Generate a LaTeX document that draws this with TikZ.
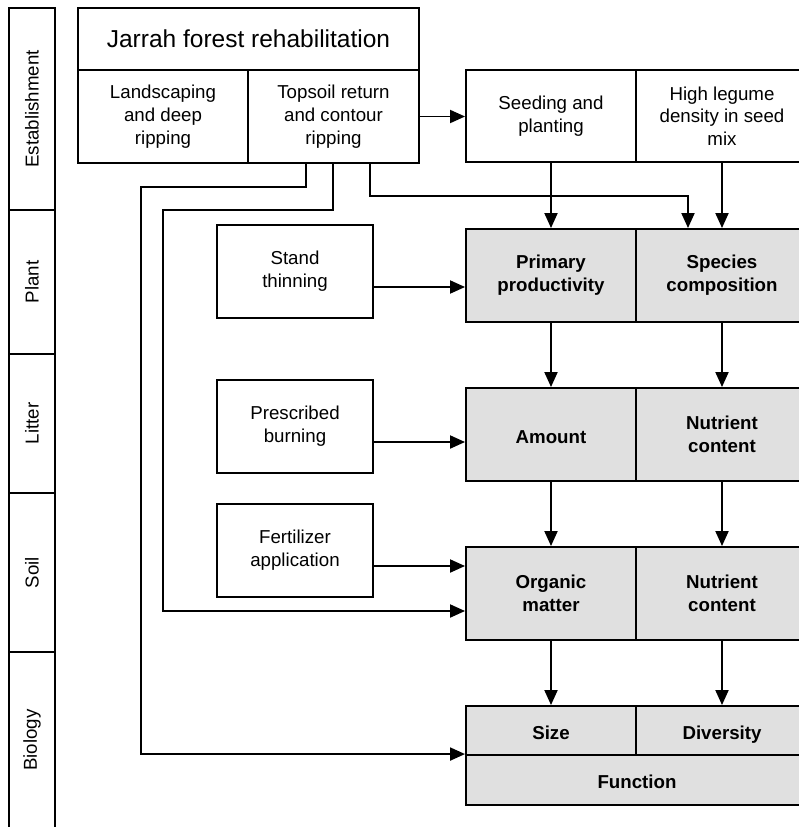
\documentclass[tikz,border=0pt]{standalone}
\usepackage{fontspec}
\setmainfont{Liberation Sans}
\usetikzlibrary{arrows.meta}
\definecolor{boxgray}{RGB}{224,224,224}
\begin{document}
\begin{tikzpicture}[x=1pt,y=-1pt, line width=1.9pt,
  txt/.style={font=\fontsize{18.7}{22.7}\selectfont},
  box/.style={draw, line width=1.9pt, align=center, inner sep=0pt, txt},
  gbox/.style={box, fill=boxgray, font=\fontsize{18.7}{22.7}\selectfont\bfseries},
  oneline/.style={text height=17.5pt, text depth=0pt},
  arr/.style={-{Triangle[length=15pt,width=13pt]}, line width=1.9pt},
  lane/.style={rotate=90, txt, inner sep=0pt}]
\useasboundingbox (0,0) rectangle (799,827);
% left lane strip
\draw (9,827) -- (9,8) -- (55,8) -- (55,827);
\foreach \yy in {210,354,493,652} \draw (9,\yy) -- (55,\yy);
\node[lane] (lEst) at (32,109) {Establishment};
\node[lane] (lPlant) at (32,282) {Plant};
\node[lane] (lLitter) at (32,423.5) {Litter};
\node[lane] (lSoil) at (32,572.5) {Soil};
\node[lane] (lBio) at (32,740) {Biology};
% establishment
\node[box, minimum width=341pt, minimum height=62pt, font=\fontsize{24.5}{28}\selectfont] (jarrah) at (248.5,39) {Jarrah forest rehabilitation};
\node[box, minimum width=170pt, minimum height=93pt] (land) at (163,116.5) {Landscaping\\and deep\\ripping};
\node[box, minimum width=171pt, minimum height=93pt] (top) at (333.5,116.5) {Topsoil return\\and contour\\ripping};
\node[box, minimum width=170pt, minimum height=92pt] (seed) at (551,116) {Seeding and\\planting};
\node[box, minimum width=172pt, minimum height=92pt] (leg) at (722,116) {High legume\\density in seed\\mix};
% management boxes
\node[box, minimum width=156pt, minimum height=93pt] (stand) at (295,271.5) {Stand\\thinning};
\node[box, minimum width=156pt, minimum height=93pt] (burn) at (295,426.5) {Prescribed\\burning};
\node[box, minimum width=156pt, minimum height=93pt] (fert) at (295,550.5) {Fertilizer\\application};
% gray boxes
\node[gbox, minimum width=170pt, minimum height=93pt] (prim) at (551,275.5) {Primary\\productivity};
\node[gbox, minimum width=172pt, minimum height=93pt] (spec) at (722,275.5) {Species\\composition};
\node[gbox, oneline, minimum width=170pt, minimum height=93pt] (amt) at (551,434.5) {Amount};
\node[gbox, minimum width=172pt, minimum height=93pt] (nutl) at (722,434.5) {Nutrient\\content};
\node[gbox, minimum width=170pt, minimum height=93pt] (org) at (551,593.5) {Organic\\matter};
\node[gbox, minimum width=172pt, minimum height=93pt] (nuts) at (722,593.5) {Nutrient\\content};
\node[gbox, oneline, minimum width=170pt, minimum height=49pt] (size) at (551,730.5) {Size};
\node[gbox, oneline, minimum width=172pt, minimum height=49pt] (div) at (722,730.5) {Diversity};
\node[gbox, oneline, minimum width=342pt, minimum height=50pt] (func) at (637,780) {Function};
% vertical arrows
\draw[arr] (seed) -- (prim);
\draw[arr] (leg) -- (spec);
\draw[arr] (prim) -- (amt);
\draw[arr] (spec) -- (nutl);
\draw[arr] (amt) -- (org);
\draw[arr] (nutl) -- (nuts);
\draw[arr] (org) -- (size);
\draw[arr] (nuts) -- (div);
% horizontal arrows
\draw[arr] (top.east) -- (top.east -| seed.west);
\draw[arr] ([yshift=-15.5pt]stand.east) -- ([yshift=-15.5pt]stand.east -| prim.west);
\draw[arr] ([yshift=-15.5pt]burn.east) -- ([yshift=-15.5pt]burn.east -| amt.west);
\draw[arr] ([yshift=-15.5pt]fert.east) -- ([yshift=-15.5pt]fert.east -| org.west);
% topsoil connectors
\coordinate (a1) at (141,187);
\coordinate (b1) at (163,210);
\coordinate (c1) at (688,196);
\draw[arr] ([xshift=-27.5pt]top.south) |- (a1) |- (func.north west);
\draw[arr] ([xshift=-0.5pt]top.south) |- (b1) |- ([yshift=-17.5pt]org.west);
\draw[arr] ([xshift=36.5pt]top.south) |- (c1) -- (c1 |- spec.north);
\end{tikzpicture}
\end{document}
